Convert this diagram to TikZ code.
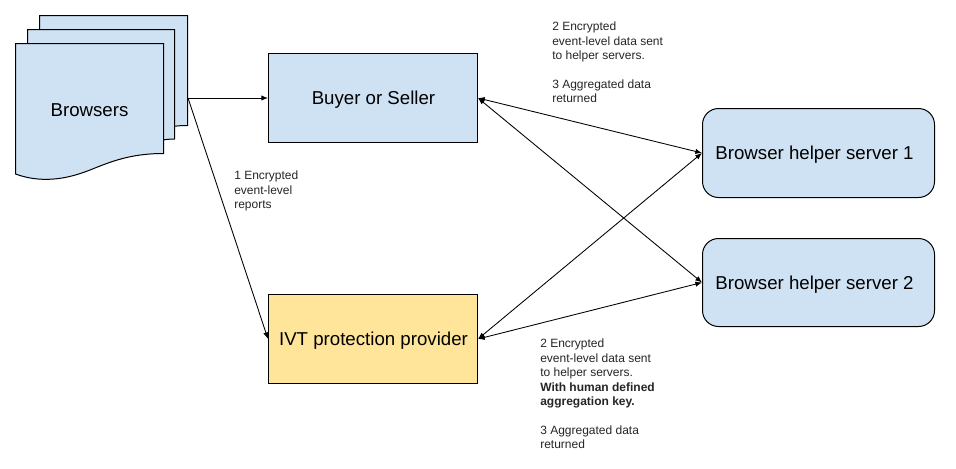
\documentclass[tikz,border=0pt]{standalone}
\usepackage{fontspec}
\setmainfont{Liberation Sans}
\usetikzlibrary{arrows.meta}
\definecolor{boxblue}{HTML}{CFE2F3}
\definecolor{boxyellow}{HTML}{FFE599}
\tikzset{
  box/.style={draw=black,line width=0.75pt,fill=boxblue,inner sep=0pt,anchor=north west},
  yellowbox/.style={box,fill=boxyellow},
  server/.style={box,rounded corners=12pt},
  page/.style={draw=black,line width=0.75pt,fill=boxblue,line join=miter},
  note/.style={font=\fontsize{9}{10.8}\selectfont,text=black!85,align=left,anchor=north west,inner sep=0pt},
  label/.style={inner sep=0pt,font=\fontsize{14}{16}\selectfont},
  link/.style={draw=black,line width=0.65pt,-{Latex[length=5pt,width=4pt]}},
  both/.style={draw=black,line width=0.65pt,{Latex[length=5pt,width=4pt]}-{Latex[length=5pt,width=4pt]}}
}
\begin{document}
\begin{tikzpicture}[x=0.75pt,y=-0.75pt]
\useasboundingbox (0,0) rectangle (956,468);
\fill[white] (0,0) rectangle (956,468);
% browser stack
\draw[page] (39.5,15.5) -- (187.5,15.5) -- (187.5,125.5)
  .. controls (175,125.5) and (165,127) .. (150,133) -- (39.5,133) -- cycle;
\draw[page] (27.5,29.5) -- (174.5,29.5) -- (174.5,139)
  .. controls (165,139) and (155,141) .. (140,146) -- (27.5,146) -- cycle;
\draw[page] (15.5,43.5) -- (163.5,43.5) -- (163.5,153.5)
  .. controls (130,153.5) and (110,162) .. (90,170)
  .. controls (65,180) and (40,183) .. (15.5,174) -- cycle;
\node[label] (browsers) at (89.5,110) {Browsers};
\coordinate (stack) at (188,98);
% boxes
\node[box,minimum width=156.75pt,minimum height=66.75pt] (buyer) at (268,53) {};
\node[label] (buyerlabel) at (373.5,100) {Buyer or Seller};
\node[yellowbox,minimum width=156.75pt,minimum height=66.75pt] (ivt) at (268,294) {};
\node[label] (ivtlabel) at (373.5,341) {IVT protection provider};
\node[server,minimum width=174pt,minimum height=66.75pt] (s1) at (702,108) {};
\node[label] (s1label) at (814.5,155) {Browser helper server 1};
\node[server,minimum width=174pt,minimum height=66pt] (s2) at (702,238) {};
\node[label] (s2label) at (814.5,285) {Browser helper server 2};
% connectors
\draw[link] (stack) -- (buyer.west);
\draw[link] (stack) -- (ivt.west);
\draw[both] (buyer.east) -- (s1.west);
\draw[both] (buyer.east) -- (s2.west);
\draw[both] (ivt.east) -- (s1.west);
\draw[both] (ivt.east) -- (s2.west);
% notes
\node[note] (n1) at (234,171) {1 Encrypted\\event-level\\reports};
\node[note] (n2) at (552,22) {2 Encrypted\\event-level data sent\\to helper servers.\\[10.8pt]3 Aggregated data\\returned};
\node[note] (n3) at (540,339) {2 Encrypted\\event-level data sent\\to helper servers.\\\textbf{With human defined}\\\textbf{aggregation key.}\\[10.8pt]3 Aggregated data\\returned};
\end{tikzpicture}
\end{document}
